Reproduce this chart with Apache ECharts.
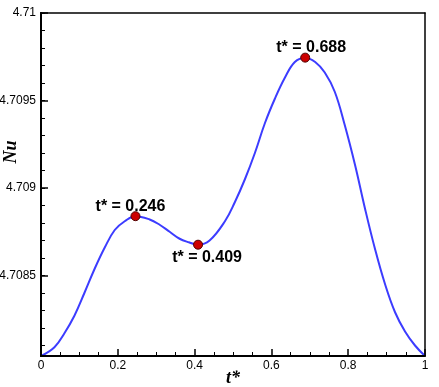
<!DOCTYPE html>
<html>
<head>
<meta charset="utf-8">
<script src="https://cdn.jsdelivr.net/npm/echarts@6/dist/echarts.min.js"></script>
<style>
html, body { margin: 0; padding: 0; background: #fff; }
#main { width: 439px; height: 387px; }
</style>
</head>
<body>
<div id="main"></div>
<script>
// curve
var tValues = [0, 0.035, 0.061, 0.087, 0.113, 0.140, 0.166, 0.192, 0.218, 0.246, 0.283, 0.309,
  0.335, 0.361, 0.385, 0.409, 0.439, 0.479, 0.505, 0.531, 0.557, 0.583, 0.609, 0.635, 0.661,
  0.688, 0.714, 0.739, 0.765, 0.791, 0.818, 0.844, 0.870, 0.896, 0.922, 0.948, 0.974, 1.0];
var nuValues = [4.70804, 4.70809, 4.70817, 4.70827, 4.70840, 4.70854, 4.70866, 4.70876, 4.70881, 4.708839, 4.70882, 4.70879,
  4.70875, 4.70871, 4.70869, 4.708676, 4.70870, 4.70881, 4.70892, 4.70905, 4.70920, 4.70937, 4.70951, 4.70963, 4.70972,
  4.709745, 4.70972, 4.70966, 4.70955, 4.70936, 4.70913, 4.70888, 4.70865, 4.70845, 4.70829, 4.70818, 4.70810, 4.70804];

// marked extrema
var peakT = [0.246, 0.409, 0.688];
var peakNu = [4.708839, 4.708676, 4.709745];

var yMin = 4.70804, yMax = 4.71;
var yStep = 0.0005; // labelled ticks

var chart = echarts.init(document.getElementById('main'));

var curve = [];
for (var i = 0; i < tValues.length; i++) curve.push([tValues[i], nuValues[i]]);

var labelPos = [
  { position: 'top', offset: [-5, 0], distance: -3 },
  { position: 'bottom', offset: [9, 0], distance: 0 },
  { position: 'top', offset: [6, 0], distance: -3 }
];
var peaks = [];
for (var j = 0; j < peakT.length; j++) {
  peaks.push({
    value: [peakT[j], peakNu[j]],
    label: labelPos[j]
  });
}

var tickFont = { fontFamily: 'Liberation Sans, Arial, sans-serif', fontSize: 12, color: '#000' };
var frameOnly = {
  axisLine: { show: true, onZero: false, lineStyle: { color: '#000', width: 1.5 } },
  axisTick: { show: false }, axisLabel: { show: false }, splitLine: { show: false }
};
var axisNameFont = 'italic bold 18px "Liberation Serif", "Times New Roman", serif';

option = {
  animation: false,
  backgroundColor: '#fff',
  grid: {
    left: 41, right: 14, top: 13, bottom: 31,
    outerBoundsMode: 'none', containLabel: false
  },
  xAxis: [{
    type: 'value', min: 0, max: 1, interval: 0.2,
    axisLine: { show: true, onZero: false, lineStyle: { color: '#000', width: 2 } },
    axisTick: { show: true, inside: true, interval: 0, length: 7, lineStyle: { color: '#000', width: 1.5 } },
    minorTick: { show: true, splitNumber: 4, length: 4, lineStyle: { color: '#000', width: 1 } },
    axisLabel: Object.assign({ margin: 4 }, tickFont),
    splitLine: { show: false },
    z: 10
  }, Object.assign({ type: 'value', min: 0, max: 1, position: 'top' }, frameOnly)],
  yAxis: [{
    // major ticks: nice interval 0.0005 found by splitNumber
    type: 'value', min: yMin, max: yMax, splitNumber: 4,
    axisLine: { show: true, onZero: false, lineStyle: { color: '#000', width: 2 } },
    axisTick: { show: true, inside: true, interval: 0, length: 7, lineStyle: { color: '#000', width: 1.5 } },
    axisLabel: Object.assign({ margin: 5, showMinLabel: false,
      formatter: function (v) {
        var k = v / yStep;
        if (Math.abs(k - Math.round(k)) > 1e-4) return '';
        return String(+v.toFixed(4));
      } }, tickFont),
    splitLine: { show: false },
    z: 10
  }, {
    // minor ticks every 0.0001
    type: 'value', min: yMin, max: yMax, splitNumber: 20, position: 'left',
    axisLine: { show: true, onZero: false, lineStyle: { color: '#000', width: 2 } },
    axisTick: { show: true, inside: true, interval: 0, length: 4, lineStyle: { color: '#000', width: 1 } },
    axisLabel: { show: false },
    splitLine: { show: false },
    z: 10
  }, Object.assign({ type: 'value', min: yMin, max: yMax, position: 'right' }, frameOnly)],
  graphic: [{
    type: 'text', x: 11, y: 152, rotation: Math.PI / 2,
    style: { text: 'Nu', fill: '#000', align: 'center', verticalAlign: 'middle', font: axisNameFont }
  }, {
    type: 'text', x: 233, y: 378,
    style: { text: 't*', fill: '#000', align: 'center', verticalAlign: 'middle', font: axisNameFont }
  }],
  series: [{
    type: 'line',
    data: curve,
    smooth: 0.4,
    showSymbol: false,
    lineStyle: { color: '#3c3cff', width: 2 },
    z: 2
  }, {
    type: 'scatter',
    data: peaks,
    symbolSize: 9,
    itemStyle: { color: '#cc0000', borderColor: '#500000', borderWidth: 1, opacity: 1 },
    label: {
      show: true,
      formatter: function (p) { return 't* = ' + p.value[0].toFixed(3); },
      fontFamily: 'Liberation Sans, Arial, sans-serif', fontWeight: 'bold', fontSize: 16, color: '#000'
    },
    z: 3
  }]
};

chart.setOption(option);
</script>
</body>
</html>
